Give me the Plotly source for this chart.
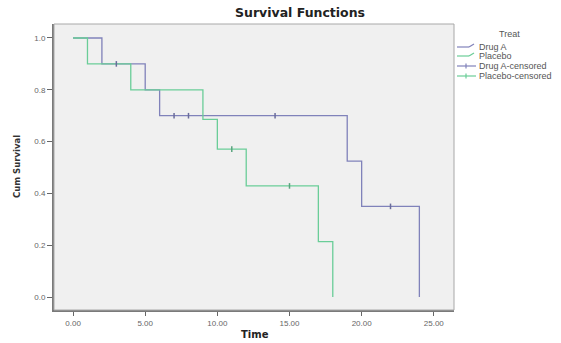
import plotly.graph_objects as go

# Data (Kaplan-Meier survival steps)
drug_a_time = [0, 2, 5, 6, 19, 20, 24]
drug_a_surv = [1.0, 0.9, 0.8, 0.7, 0.525, 0.35, 0.0]
drug_a_cens_time = [3, 7, 8, 14, 22]
drug_a_cens_surv = [0.9, 0.7, 0.7, 0.7, 0.35]

placebo_time = [0, 1, 4, 9, 10, 12, 17, 18]
placebo_surv = [1.0, 0.9, 0.8, 0.686, 0.571, 0.429, 0.214, 0.0]
placebo_cens_time = [11, 15]
placebo_cens_surv = [0.571, 0.429]

x_ticks = [0, 5, 10, 15, 20, 25]
x_tick_labels = ["0.00", "5.00", "10.00", "15.00", "20.00", "25.00"]
y_ticks = [0.0, 0.2, 0.4, 0.6, 0.8, 1.0]
y_tick_labels = ["0.0", "0.2", "0.4", "0.6", "0.8", "1.0"]

legend_labels = ["Drug A", "Placebo", "Drug A-censored", "Placebo-censored"]

BLUE = "#8082BA"
GREEN = "#6ACD98"
BLUE_DARK = "#6A6C9C"
GREEN_DARK = "#5AA47E"
FONT = "Liberation Sans"
BOLD_FONT = "DejaVu Sans"

fig = go.Figure()
fig.add_trace(go.Scatter(x=drug_a_time, y=drug_a_surv, mode="lines",
                         line=dict(shape="hv", color=BLUE, width=1.3),
                         name=legend_labels[0], showlegend=False))
fig.add_trace(go.Scatter(x=placebo_time, y=placebo_surv, mode="lines",
                         line=dict(shape="hv", color=GREEN, width=1.3),
                         name=legend_labels[1], showlegend=False))
fig.add_trace(go.Scatter(x=drug_a_cens_time, y=drug_a_cens_surv, mode="markers",
                         marker=dict(symbol="line-ns-open", size=4, color=BLUE_DARK,
                                     line=dict(color=BLUE_DARK, width=1.5)),
                         name=legend_labels[2], showlegend=False))
fig.add_trace(go.Scatter(x=placebo_cens_time, y=placebo_cens_surv, mode="markers",
                         marker=dict(symbol="line-ns-open", size=4, color=GREEN_DARK,
                                     line=dict(color=GREEN_DARK, width=1.5)),
                         name=legend_labels[3], showlegend=False))

W, H = 561, 343
L, R, T, B = 54, 454, 24, 310

def px_x(p):
    return (p - L) / (R - L)

def px_y(p):
    return (B - p) / (B - T)

# Border around plot area (top/right thin)
fig.add_shape(type="rect", xref="paper", yref="paper", x0=0, y0=0, x1=1, y1=1,
              line=dict(color="#A8A8A8", width=1), layer="above")

annotations = [
    dict(text="<b>Survival Functions</b>", x=px_x(300), y=px_y(13), xref="paper", yref="paper",
         showarrow=False, font=dict(family=BOLD_FONT, size=12.5, color="#222"),
         xanchor="center", yanchor="middle"),
    dict(text="<b>Time</b>", x=px_x(255), y=px_y(334), xref="paper", yref="paper",
         showarrow=False, font=dict(family=BOLD_FONT, size=10, color="#222"),
         xanchor="center", yanchor="middle"),
    dict(text="<b>Cum Survival</b>", x=px_x(17), y=px_y(167), xref="paper", yref="paper",
         showarrow=False, textangle=-90, font=dict(family=BOLD_FONT, size=8.5, color="#333"),
         xanchor="center", yanchor="middle"),
    dict(text="Treat", x=px_x(510), y=px_y(34), xref="paper", yref="paper",
         showarrow=False, font=dict(family=FONT, size=9, color="#555"),
         xanchor="center", yanchor="middle"),
]
colors = [BLUE, GREEN, BLUE, GREEN]
row_y = [47, 56, 66, 76]
for i, (lab, c, yy) in enumerate(zip(legend_labels, colors, row_y)):
    annotations.append(dict(text=lab, x=px_x(477), y=px_y(yy), xref="paper", yref="paper",
                            showarrow=False, font=dict(family=FONT, size=9, color="#555"),
                            xanchor="left", yanchor="middle"))
    if i < 2:
        fig.add_shape(type="line", xref="paper", yref="paper",
                      x0=px_x(457), x1=px_x(469), y0=px_y(yy), y1=px_y(yy),
                      line=dict(color=c, width=1.2))
        fig.add_shape(type="line", xref="paper", yref="paper",
                      x0=px_x(469), x1=px_x(474), y0=px_y(yy), y1=px_y(yy - 3),
                      line=dict(color=c, width=1.2))
    else:
        fig.add_shape(type="line", xref="paper", yref="paper",
                      x0=px_x(457), x1=px_x(476), y0=px_y(yy), y1=px_y(yy),
                      line=dict(color=c, width=1.2))
        fig.add_shape(type="line", xref="paper", yref="paper",
                      x0=px_x(466), x1=px_x(466), y0=px_y(yy - 2.5), y1=px_y(yy + 2.5),
                      line=dict(color=c, width=1.2))

fig.update_layout(
    width=W, height=H,
    margin=dict(l=L, r=W - R, t=T, b=H - B, pad=0, autoexpand=False),
    paper_bgcolor="white",
    plot_bgcolor="#F0F0F0",
    showlegend=False,
    annotations=annotations,
    font=dict(family=FONT),
)
fig.update_xaxes(range=[-1.32, 26.4], tickvals=x_ticks, ticktext=x_tick_labels,
                 automargin=False,
                 showgrid=False, zeroline=False, showline=True, linecolor="#7A7A7A",
                 linewidth=2, ticks="outside", ticklen=4, tickcolor="#666",
                 tickfont=dict(family=FONT, size=8, color="#666"))
fig.update_yaxes(range=[-0.05, 1.054], tickvals=y_ticks, ticktext=y_tick_labels,
                 automargin=False,
                 showgrid=False, zeroline=False, showline=True, linecolor="#7A7A7A",
                 linewidth=2, ticks="outside", ticklen=5, tickcolor="#666",
                 tickfont=dict(family=FONT, size=8, color="#666"))

fig.write_html(
    "out.html",
    config={"displayModeBar": False},
    post_script="document.body.style.margin='0';document.body.style.overflow='hidden';",
)
